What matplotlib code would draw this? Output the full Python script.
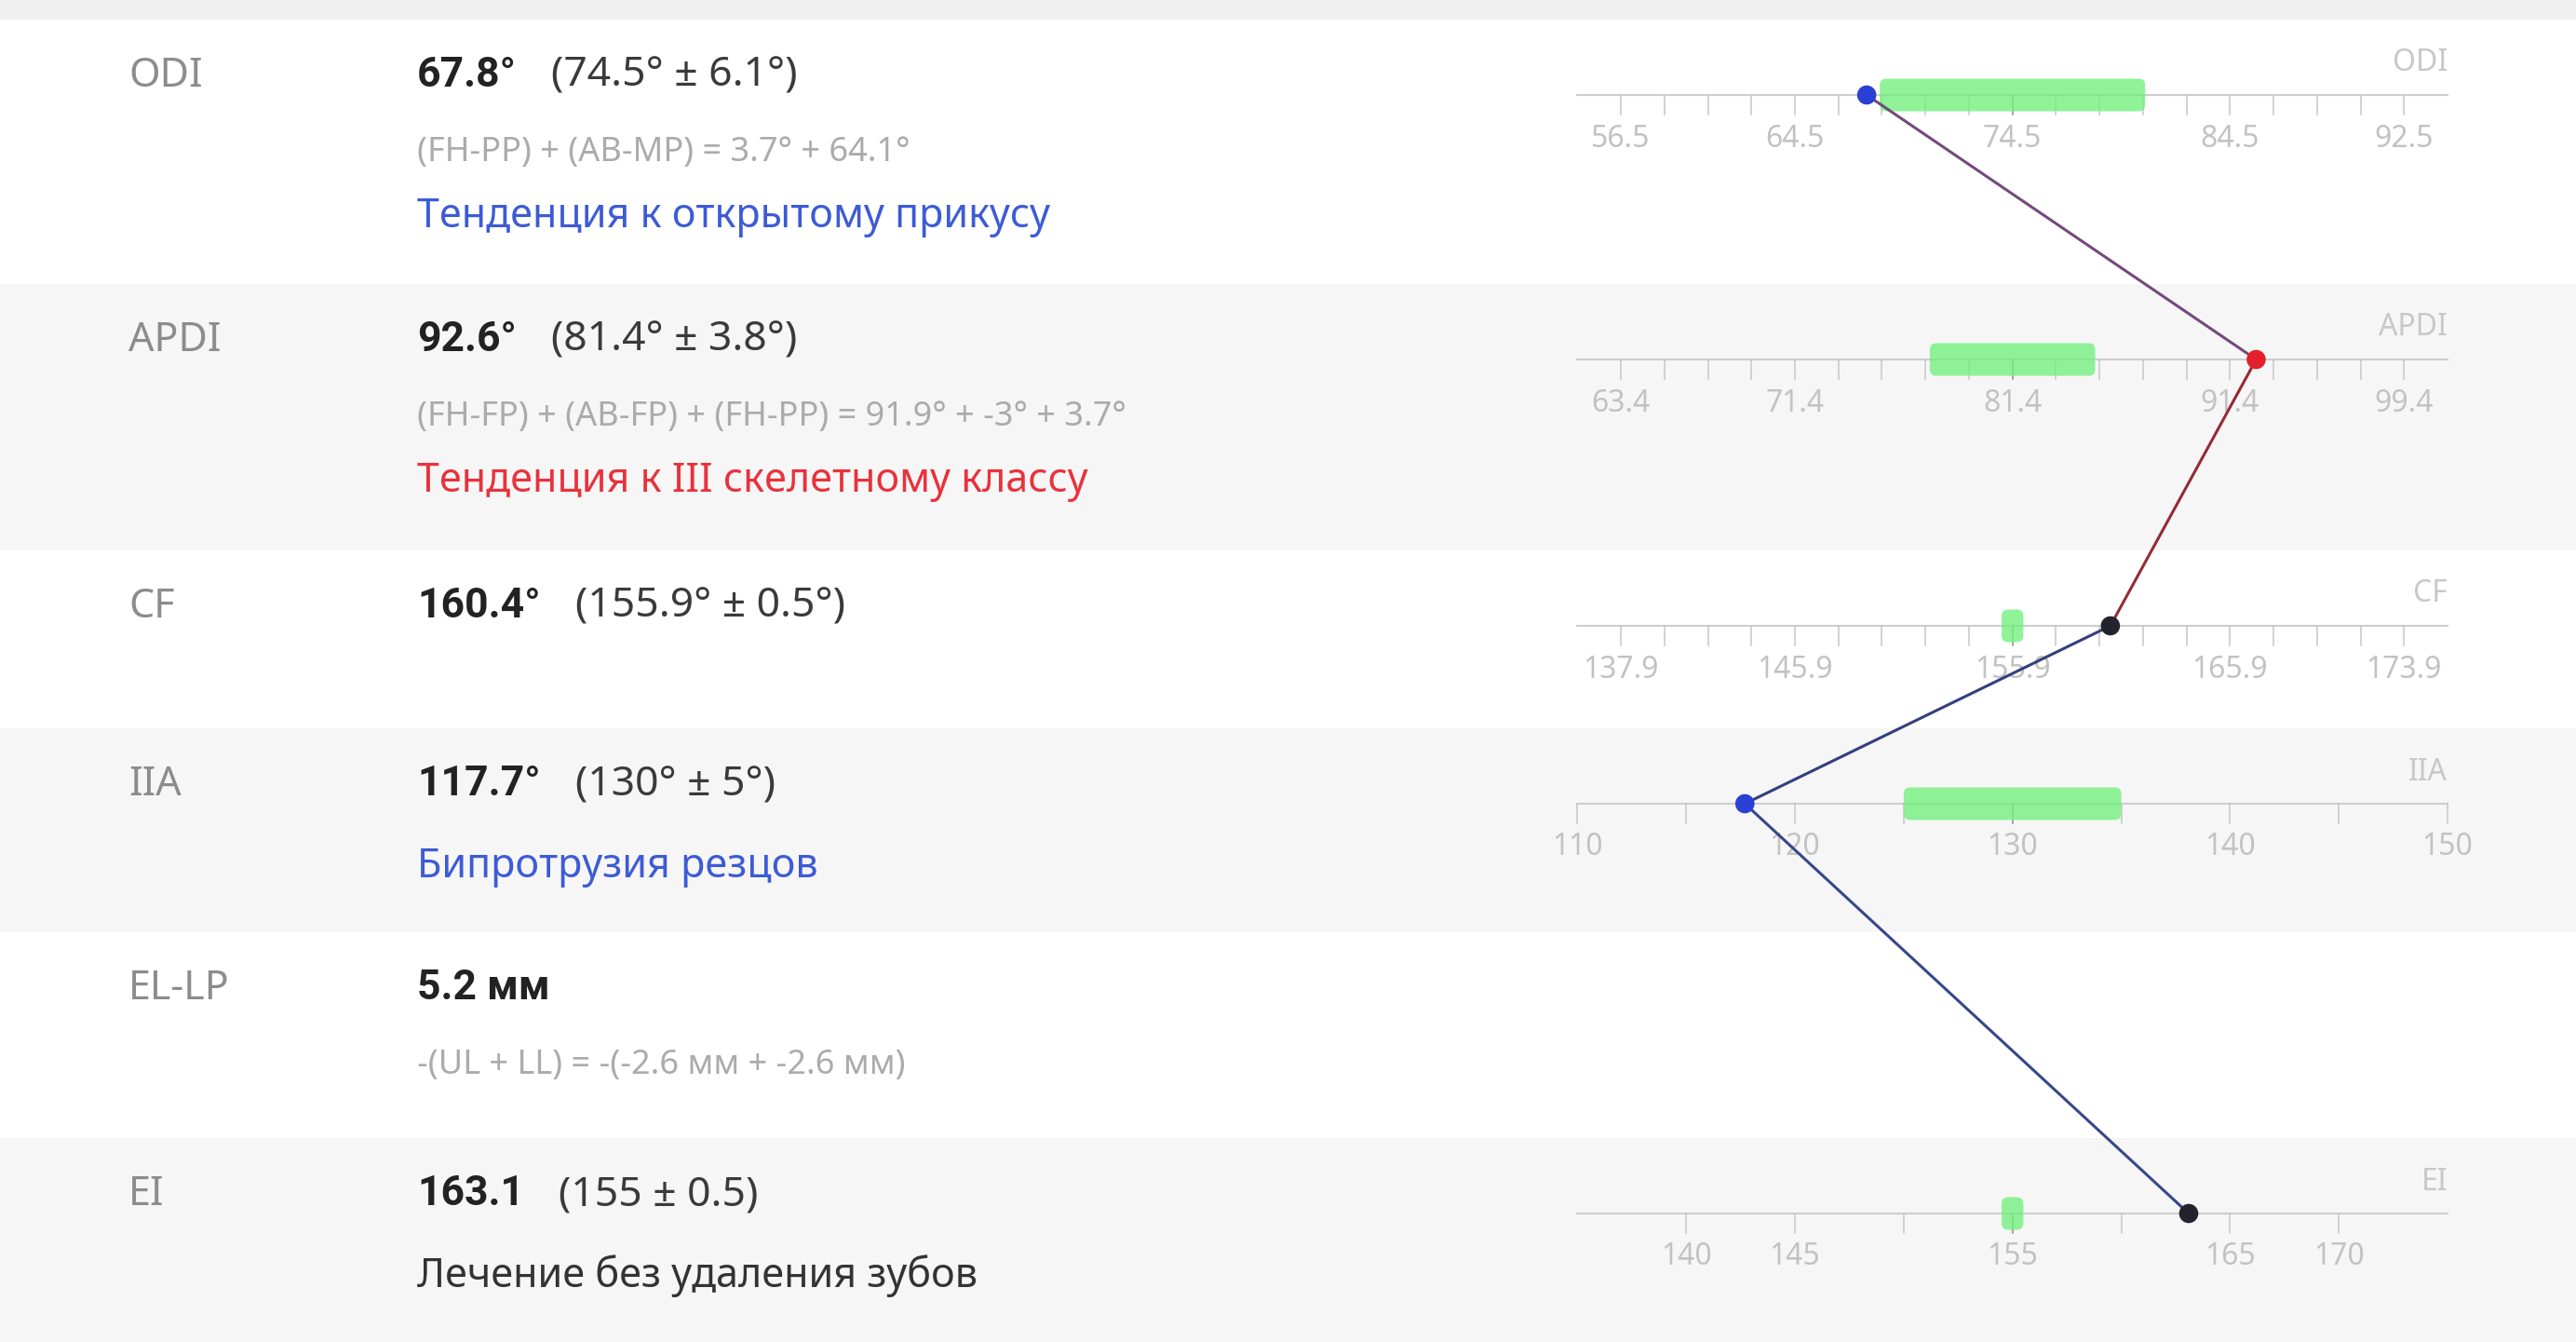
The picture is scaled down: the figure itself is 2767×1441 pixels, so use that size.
import numpy as np
import matplotlib
matplotlib.use('Agg')
import matplotlib.pyplot as plt
from matplotlib.patches import FancyBboxPatch

plt.rcParams['font.family'] = ['Noto Sans', 'DejaVu Sans']

# rows of the table
names = ['ODI', 'APDI', 'CF', 'IIA', 'EL-LP', 'EI']
value_txt = ['67.8°', '92.6°', '160.4°', '117.7°', '5.2 мм', '163.1']
norm_txt = ['(74.5° ± 6.1°)', '(81.4° ± 3.8°)', '(155.9° ± 0.5°)', '(130° ± 5°)', '', '(155 ± 0.5)']
formulas = ['(FH-PP) + (AB-MP) = 3.7° + 64.1°',
            '(FH-FP) + (AB-FP) + (FH-PP) = 91.9° + -3° + 3.7°',
            '', '', '-(UL + LL) = -(-2.6 мм + -2.6 мм)', '']
conclusions = ['Тенденция к открытому прикусу', 'Тенденция к III скелетному классу',
               '', 'Бипротрузия резцов', '', 'Лечение без удаления зубов']
concl_colors = ['#3d5bd6', '#e8323c', None, '#3d5bd6', None, '#333333']

# scale data (EL-LP has no scale)
scale_rows = [0, 1, 2, 3, 5]
values = [67.8, 92.6, 160.4, 117.7, 163.1]
means = [74.5, 81.4, 155.9, 130, 155]
sds = [6.1, 3.8, 0.5, 5, 0.5]
tick_step = [2, 2, 2, 5, 5]
tick_span = [18, 18, 18, 20, 15]
tick_labels = [['56.5', '64.5', '74.5', '84.5', '92.5'],
               ['63.4', '71.4', '81.4', '91.4', '99.4'],
               ['137.9', '145.9', '155.9', '165.9', '173.9'],
               ['110', '120', '130', '140', '150'],
               ['140', '145', '155', '165', '170']]
dot_colors = ['#2a3fd4', '#e3202c', '#23232d', '#2a3fd4', '#23232d']
seg_colors = ['#744a7c', '#962a33', '#343f7c', '#38478a']

W, H = 2767, 1441
row_tops = [21, 305, 591, 782, 1001, 1222]
row_bottoms = row_tops[1:] + [H]
gray_rows = [1, 3, 5]

fig = plt.figure(figsize=(W / 100, H / 100), dpi=100)
bg = fig.add_axes([0, 0, 1, 1])
bg.set_xlim(0, W)
bg.set_ylim(H, 0)
bg.axis('off')

bg.axhspan(0, row_tops[0], color='#f0f0f0', lw=0)
for i in gray_rows:
    bg.axhspan(row_tops[i], row_bottoms[i], color='#f6f6f6', lw=0)

big = 31
small = 26
bold_family = ['Roboto', 'DejaVu Sans']
renderer = fig.canvas.get_renderer()
for i, name in enumerate(names):
    top = row_tops[i]
    bg.text(138, top + 72, name, fontsize=big, color='#8c8c8c', va='baseline')
    t = bg.text(448, top + 72, value_txt[i], fontsize=32, fontweight='bold',
                family=bold_family, color='#222222', va='baseline')
    if norm_txt[i]:
        # put the norm right after the bold value, on the same baseline
        bb = t.get_window_extent(renderer)
        xn = bg.transData.inverted().transform((bb.x1, 0))[0] + 37
        bg.text(xn, top + 72, norm_txt[i], fontsize=32, color='#3a3a3a',
                va='baseline')
    if formulas[i]:
        bg.text(448, top + 152, formulas[i], fontsize=small, color='#ababab',
                va='baseline')
        line2 = top + 223
    else:
        line2 = top + 160
    if conclusions[i]:
        bg.text(448, line2, conclusions[i], fontsize=big, color=concl_colors[i],
                va='baseline')

# scale panel: x in units from the norm mean, y in pixels
px_per_unit = 23.37
x0 = 2161.7 - 20 * px_per_unit
x1 = 2161.7 + 20 * px_per_unit
sc = fig.add_axes([x0 / W, 0, (x1 - x0) / W, 1])
sc.set_xlim(-20, 20)
sc.set_ylim(H, 0)
sc.axis('off')
sc.patch.set_alpha(0)

axis_y = [row_tops[r] + 81 for r in scale_rows]
for k, r in enumerate(scale_rows):
    y = axis_y[k]
    sc.plot([-20, 20], [y, y], color='#cdcdcd', lw=1.5, zorder=1, clip_on=False)
    ticks = np.arange(-tick_span[k], tick_span[k] + 0.01, tick_step[k])
    for tx in ticks:
        col = '#8e8e8e' if tx == 0 else '#c6c6c6'
        sc.plot([tx, tx], [y, y + 21], color=col, lw=1.1, zorder=1, clip_on=False)
    for lab in tick_labels[k]:
        sc.text(float(lab) - means[k], y + 47, lab, fontsize=23, color='#c2c2c2',
                ha='center', va='center')
    sc.text(20, y - 34, names[r], fontsize=23, color='#c8c8c8', ha='right', va='center')
    bar = FancyBboxPatch((-sds[k], y - 17.5), 2 * sds[k], 35,
                         boxstyle='round,pad=0,rounding_size=0.3',
                         mutation_aspect=px_per_unit,
                         fc='#74f07f', ec='none', alpha=0.8, zorder=2)
    sc.add_patch(bar)

dev = [v - m for v, m in zip(values, means)]
for k in range(len(dev) - 1):
    sc.plot(dev[k:k + 2], axis_y[k:k + 2], color=seg_colors[k], lw=2.2,
            zorder=3, clip_on=False)
sc.scatter(dev, axis_y, s=220, c=dot_colors, zorder=4, clip_on=False, lw=0)

fig.savefig('out.png', dpi=100, facecolor='white')
